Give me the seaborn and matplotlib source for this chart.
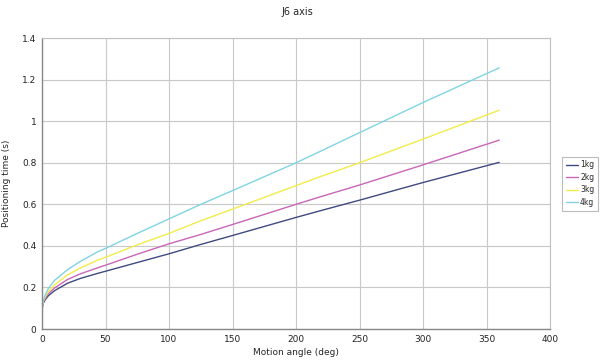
import matplotlib
matplotlib.use("Agg")
import matplotlib.pyplot as plt
import seaborn as sns
import pandas as pd

angles = [0, 1, 3, 5, 10, 20, 30, 44, 50, 75, 100, 125, 150, 200, 219, 250, 300, 360]
t_1kg = [0.095, 0.125, 0.145, 0.160, 0.185, 0.220, 0.243, 0.268, 0.278, 0.320, 0.362, 0.407, 0.450, 0.537, 0.569, 0.620, 0.705, 0.802]
t_2kg = [0.095, 0.130, 0.152, 0.170, 0.198, 0.238, 0.265, 0.295, 0.307, 0.360, 0.410, 0.455, 0.503, 0.600, 0.636, 0.693, 0.790, 0.909]
t_3kg = [0.095, 0.135, 0.160, 0.180, 0.213, 0.260, 0.293, 0.332, 0.345, 0.405, 0.460, 0.521, 0.577, 0.690, 0.733, 0.800, 0.914, 1.053]
t_4kg = [0.095, 0.140, 0.170, 0.195, 0.235, 0.285, 0.325, 0.372, 0.388, 0.460, 0.530, 0.600, 0.666, 0.800, 0.855, 0.945, 1.090, 1.257]
series_names = ["1kg", "2kg", "3kg", "4kg"]
colors = ["#3f4a80", "#c966b8", "#f2ec4a", "#80d4e2"]

rows = []
for name, vals in zip(series_names, [t_1kg, t_2kg, t_3kg, t_4kg]):
    for a, v in zip(angles, vals):
        rows.append({"angle": a, "time": v, "load": name})
df = pd.DataFrame(rows)

sns.set_style("white")
plt.rcParams['font.family'] = ['DejaVu Sans']

fig = plt.figure(figsize=(6, 3.6), dpi=100)
ax = fig.add_axes([0.07, 0.0861, 0.8467, 0.808])
sns.lineplot(data=df, x="angle", y="time", hue="load", palette=colors,
             hue_order=series_names, ax=ax, linewidth=1.0, legend=True)

ax.set_xlim(0, 400)
ax.set_ylim(0, 1.4)
ax.set_xticks(range(0, 401, 50))
ax.set_yticks([0, 0.2, 0.4, 0.6, 0.8, 1.0, 1.2, 1.4])
ax.set_yticklabels(["0", "0.2", "0.4", "0.6", "0.8", "1", "1.2", "1.4"])
ax.tick_params(axis="both", labelsize=6.5, length=0, pad=4, colors="#222222")
ax.grid(True, color="#c8c8c8", linewidth=0.8)
for s in ["top", "right"]:
    ax.spines[s].set_color("#c0c0c0")
    ax.spines[s].set_linewidth(0.8)
for s in ["left", "bottom"]:
    ax.spines[s].set_color("#888888")
    ax.spines[s].set_linewidth(1.0)
ax.set_xlabel("Motion angle (deg)", fontsize=6.5, labelpad=3)
ax.set_ylabel("Positioning time (s)", fontsize=6.5, labelpad=8)
fig.suptitle("J6 axis", fontsize=7, x=0.495, y=0.98)

leg = ax.legend(loc="center left", bbox_to_anchor=(1.02, 0.5), fontsize=5.5,
                frameon=True, fancybox=False, handlelength=1.6,
                borderpad=0.5, labelspacing=0.45, handletextpad=0.3,
                borderaxespad=0.2)
leg.get_frame().set_edgecolor("#aaaaaa")
leg.get_frame().set_linewidth(0.8)

fig.savefig("out.png", dpi=100)
